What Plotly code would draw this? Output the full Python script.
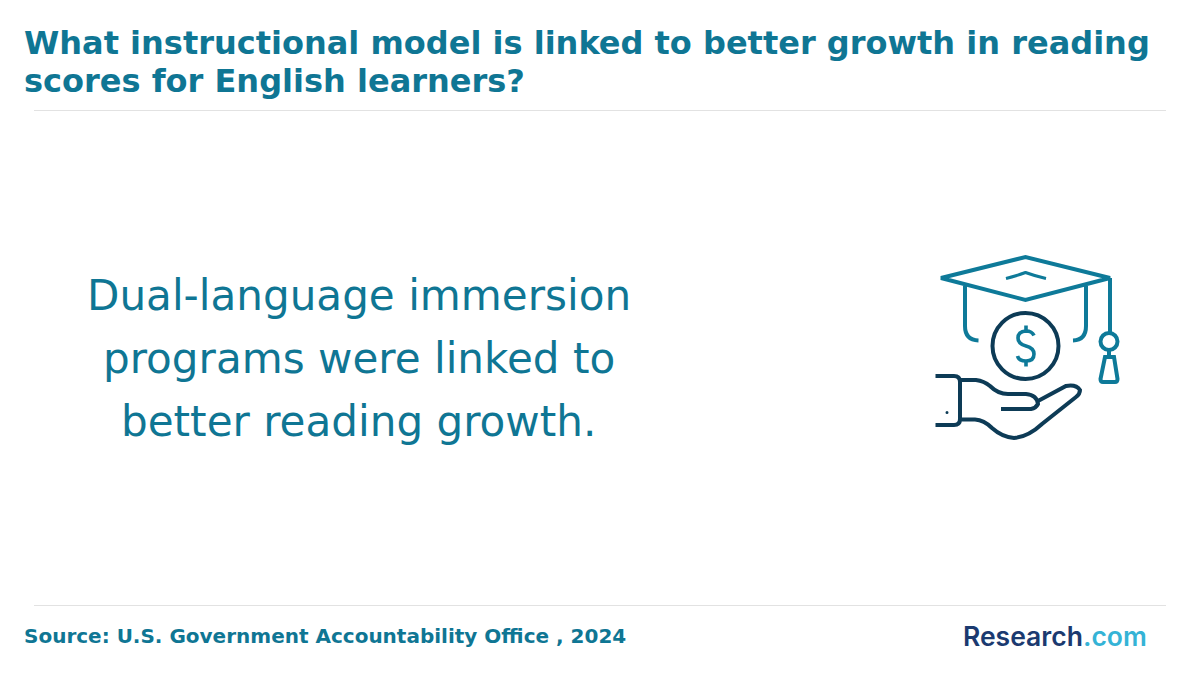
import plotly.graph_objects as go

title_lines = ["What instructional model is linked to better growth in reading", "scores for English learners?"]
body_lines = ["Dual-language immersion", "programs were linked to", "better reading growth."]
source_text = "Source: U.S. Government Accountability Office , 2024"
logo_parts = ["Research", ".com"]

TEAL = "#0f7694"
ICON_TEAL = "#0e7a99"
NAVY = "#0d3b56"
FONT = "DejaVu Sans"

ann = []
def txt(x, y, s, size, color, anchor="left", bold=False, font=FONT, weight=None):
    f = dict(family=font, size=size, color=color)
    if weight:
        f["weight"] = weight
    ann.append(dict(x=x, y=y, text=f"<b>{s}</b>" if bold else s, showarrow=False, xref="x", yref="y",
                    xanchor=anchor, yanchor="middle", align=anchor, font=f))

for y, s in zip([43, 81], title_lines):
    txt(22, y, s, 32, TEAL, bold=True)
for y, s in zip([295.5, 358.5, 421.5], body_lines):
    txt(358.5, y, s, 42.1, TEAL, anchor="center")
txt(22, 636, source_text, 20, TEAL, bold=True)
txt(961, 636, f"<span style='color:#1b3a70'>{logo_parts[0]}</span><span style='color:#35b3d6'>{logo_parts[1]}</span>",
    26.5, "#1b3a70", font="Inter", weight=600)

W = 4
def path(d, color, width=W):
    return dict(type="path", path=d, xref="x", yref="y", line=dict(color=color, width=width), layer="above")

shapes = [
    dict(type="line", x0=34, x1=1166, y0=110.5, y1=110.5, xref="x", yref="y", line=dict(color="#e2e2e2", width=1)),
    dict(type="line", x0=34, x1=1166, y0=605.5, y1=605.5, xref="x", yref="y", line=dict(color="#e2e2e2", width=1)),
    # cap
    path("M 941 278 L 1025.5 257 L 1110 278 L 1025.5 300 Z", ICON_TEAL),
    path("M 1006 278.5 Q 1016 276 1025.5 272.5 Q 1035 276 1046 278.5", ICON_TEAL, 3),
    path("M 965 286 L 965 326 Q 965 340 978.5 340.5", ICON_TEAL),
    path("M 1086 286 L 1086 326 Q 1086 340 1073 340.5", ICON_TEAL),
    path("M 1110 278 L 1110 333", ICON_TEAL),
    dict(type="circle", x0=1100.5, x1=1117.5, y0=333, y1=350, xref="x", yref="y", line=dict(color=ICON_TEAL, width=W)),
    path("M 1109 350 L 1109 357", ICON_TEAL),
    path("M 1105 357 L 1114 357 L 1117.5 379 Q 1117.5 382 1115 382 L 1103 382 Q 1100.5 382 1100.5 379 Z", ICON_TEAL),
    # coin
    dict(type="circle", x0=992.5, x1=1058.5, y0=313, y1=379, xref="x", yref="y", line=dict(color=NAVY, width=W)),
    path("M 1034 335.5 Q 1032 331 1026 331 Q 1018 331.5 1018 338 Q 1018 344 1026 346 Q 1034 348 1034 354 Q 1034 361 1026 361 Q 1019 361 1017.5 356", ICON_TEAL, 3.6),
    path("M 1026 325.5 L 1026 331 M 1026 361 L 1026 366.5", ICON_TEAL, 3.6),
    # hand
    path("M 935.5 376 L 954 376 Q 960 376 960 382 L 960 419 Q 960 425 954 425 L 935.5 425", NAVY),
    dict(type="circle", x0=945.5, x1=948.5, y0=411, y1=414, xref="x", yref="y", fillcolor=NAVY, line=dict(color=NAVY, width=0)),
    path("M 960 380 L 976 380 Q 984 381 990 386 Q 998 394 1008 394 L 1026 394 Q 1037 395 1038 404 Q 1036 408 1031 409 L 1001 409", NAVY),
    path("M 1038 401 L 1066 386 Q 1076 384 1080 390 Q 1080 394 1076 397 L 1042 424 Q 1028 437 1014 438 Q 1002 437 992 428 Q 984 420 975 419.5 L 960 419.5", NAVY),
]

fig = go.Figure()
fig.update_layout(
    width=1200, height=680, margin=dict(l=0, r=0, t=0, b=0),
    paper_bgcolor="white", plot_bgcolor="white", showlegend=False,
    xaxis=dict(range=[0, 1200], visible=False, fixedrange=True),
    yaxis=dict(range=[680, 0], visible=False, fixedrange=True),
    annotations=ann, shapes=shapes,
)
fig.write_html("out.html", config=dict(displayModeBar=False),
               post_script="document.body.style.margin='0';document.documentElement.style.overflow='hidden';")
